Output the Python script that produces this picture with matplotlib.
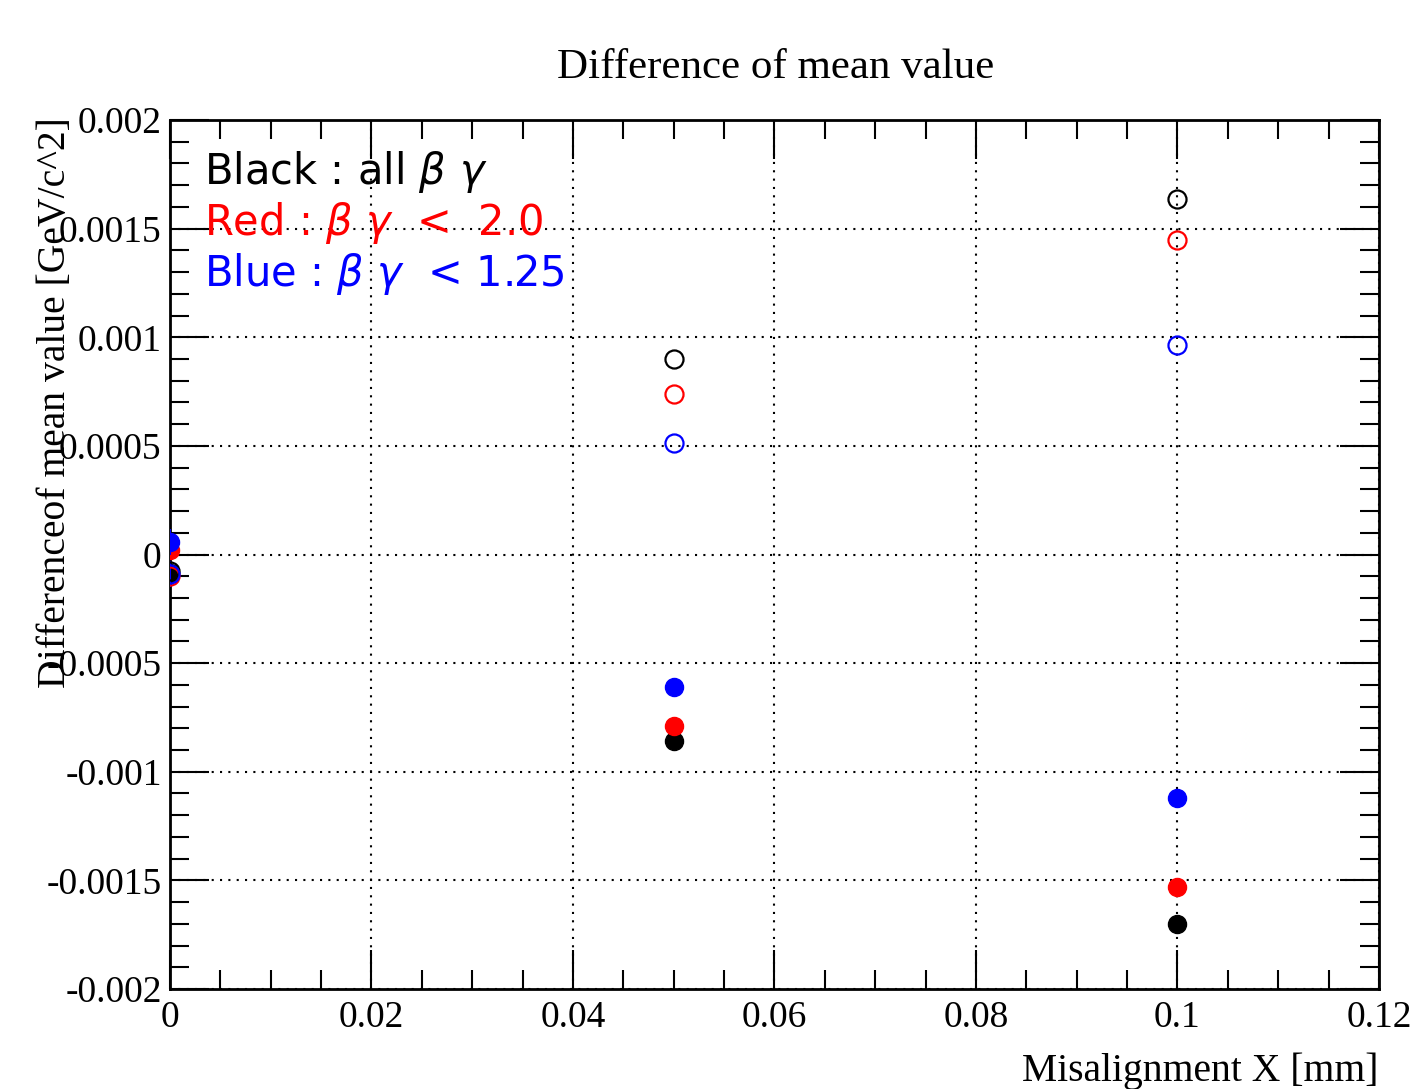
# Difference of mean value vs. misalignment X

import numpy as np
import matplotlib as mpl
mpl.use('Agg')
import matplotlib.pyplot as plt
import matplotlib.ticker as ticker

misalign = [0.0, 0.05, 0.1]

# open markers (one sign) and filled markers (other sign)
black_open = [-0.000076, 0.00090, 0.001636]
red_open = [-0.00010, 0.000739, 0.001448]
blue_open = [-0.00009, 0.000513, 0.000964]
black_fill = [-0.000085, -0.000858, -0.00170]
red_fill = [0.00002, -0.00079, -0.00153]
blue_fill = [0.000058, -0.00061, -0.00112]
blue_err = [0.00006, 0.0, 0.0]

serif = 'Liberation Serif'

fig = plt.figure(figsize=(14.12, 10.89), dpi=100)
ax = fig.add_axes([0.1204, 0.0918, 0.8562, 0.798])

ms = 13
ax.plot(misalign, black_fill, 'o', color='black', ms=ms, zorder=3)
ax.plot(misalign, red_fill, 'o', color='red', ms=ms, zorder=3)
ax.errorbar(misalign, blue_fill, yerr=blue_err, fmt='o', color='blue', ecolor='blue',
            ms=ms, elinewidth=1.5, capsize=0, zorder=4)
ax.errorbar(misalign, blue_open, yerr=blue_err, fmt='o', mfc='none', mec='blue', ecolor='blue',
            ms=ms, mew=1.6, elinewidth=1.5, capsize=0, zorder=5)
ax.plot(misalign, red_open, 'o', mfc='none', mec='red', ms=ms, mew=1.6, zorder=5)
ax.plot(misalign, black_open, 'o', mfc='none', mec='black', ms=ms, mew=1.6, zorder=5)

ax.set_xlim(0, 0.12)
ax.set_ylim(-0.002, 0.002)
ax.xaxis.set_major_locator(ticker.MultipleLocator(0.02))
ax.xaxis.set_minor_locator(ticker.MultipleLocator(0.005))
ax.yaxis.set_major_locator(ticker.MultipleLocator(0.0005))
ax.yaxis.set_minor_locator(ticker.MultipleLocator(0.0001))
fmt = ticker.FuncFormatter(lambda v, p: '%g' % round(v, 6) if abs(v) > 1e-12 else '0')
ax.xaxis.set_major_formatter(fmt)
ax.yaxis.set_major_formatter(fmt)
ax.tick_params(which='both', direction='in', top=True, right=True, width=1.5, color='black')
ax.tick_params(which='major', length=28)
ax.tick_params(which='minor', length=14)
ax.tick_params(axis='y', which='major', pad=6)
ax.tick_params(axis='x', which='major', pad=8)
for lab in ax.get_xticklabels() + ax.get_yticklabels():
    lab.set_fontfamily(serif)
    lab.set_fontsize(27)
for s in ax.spines.values():
    s.set_linewidth(2)

ax.grid(True, which='major', linestyle=(0, (1, 3)), color='black', linewidth=1.5)
ax.set_axisbelow(True)

fig.text(0.549, 0.938, 'Difference of mean value', ha='center', va='center',
         fontfamily=serif, fontsize=31)
fig.text(0.976, 0.016, 'Misalignment X [mm]', ha='right', va='center',
         fontfamily=serif, fontsize=28.5)
fig.text(0.039, 0.892, 'Differenceof mean value [GeV/c^2]', ha='center', va='top',
         rotation=90, fontfamily=serif, fontsize=28.5)

ax.text(0.028, 0.94, r'Black : all $\beta\ \gamma$', transform=ax.transAxes, color='black',
        fontsize=30, va='center', ha='left')
ax.text(0.028, 0.882, r'Red : $\beta\ \gamma$  <  2.0', transform=ax.transAxes, color='red',
        fontsize=30, va='center', ha='left')
ax.text(0.028, 0.823, r'Blue : $\beta\ \gamma$  < 1.25', transform=ax.transAxes, color='blue',
        fontsize=30, va='center', ha='left')

fig.savefig('out.png', dpi=100)
